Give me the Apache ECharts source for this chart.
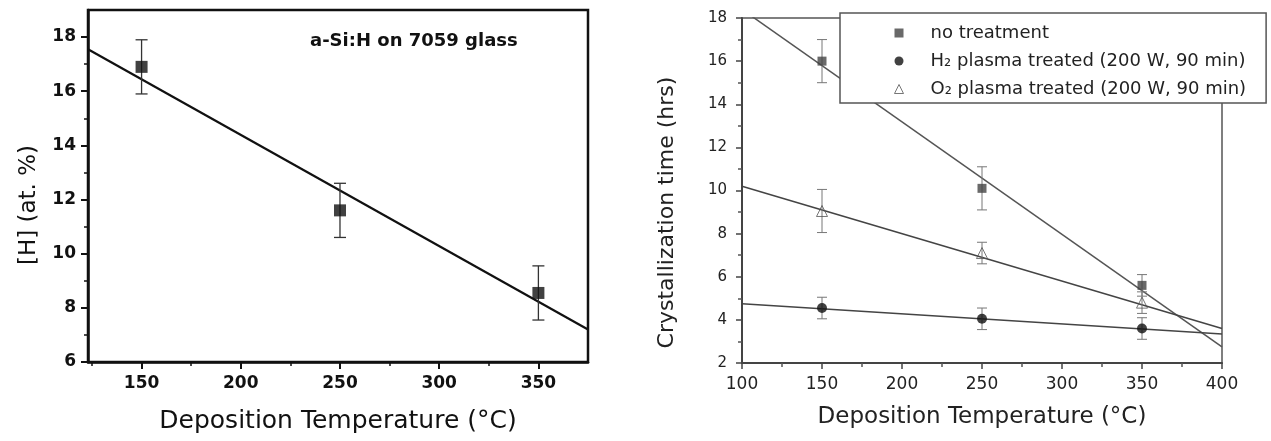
<!DOCTYPE html>
<html>
<head>
<meta charset="utf-8">
<title>Deposition temperature</title>
<script src="https://cdn.jsdelivr.net/npm/echarts@6/dist/echarts.min.js"></script>
<style>
html, body { margin: 0; padding: 0; background: #fff; }
#chart { width: 1271px; height: 441px; }
</style>
</head>
<body>
<div id="chart"></div>
<script>
// left panel : [H] content
var leftTemps = [150, 250, 350];
var leftH = [16.9, 11.6, 8.55];
var leftErr = [1.0, 1.0, 1.0];
var leftFit = [[123, 17.55], [375, 7.2]];
var leftXTicks = [150, 200, 250, 300, 350];
var leftXMinor = [125, 175, 225, 275, 325];
var leftYTicks = [6, 8, 10, 12, 14, 16, 18];
var leftYMinor = [7, 9, 11, 13, 15, 17];

// right panel : crystallization time
var rightTemps = [150, 250, 350];
var noTreat = [16.0, 10.1, 5.6];
var noTreatErr = [1.0, 1.0, 0.5];
var h2Plasma = [4.55, 4.05, 3.6];
var h2Err = [0.5, 0.5, 0.5];
var o2Plasma = [9.05, 7.1, 4.8];
var o2Err = [1.0, 0.5, 0.5];
var noTreatFit = [[100, 18.4], [400, 2.75]];
var h2Fit = [[100, 4.75], [400, 3.35]];
var o2Fit = [[100, 10.2], [400, 3.6]];
var rightXTicks = [100, 150, 200, 250, 300, 350, 400];
var rightXMinor = [125, 175, 225, 275, 325, 375];
var rightYTicks = [2, 4, 6, 8, 10, 12, 14, 16, 18];
var rightYMinor = [3, 5, 7, 9, 11, 13, 15, 17];

var FONT = 'DejaVu Sans';

function pts(xs, ys) {
	return xs.map(function (x, i) { return [x, ys[i]]; });
}

function bars(xs, ys, es) {
	return xs.map(function (x, i) { return [x, ys[i] - es[i], ys[i] + es[i]]; });
}

/**
 * vertical error bar with caps
 */
function errorBars(cap, color, width) {
	return function (params, api) {
		var top = api.coord([api.value(0), api.value(2)]);
		var bot = api.coord([api.value(0), api.value(1)]);
		var st = { stroke: color, lineWidth: width };
		return {
			type: 'group',
			children: [
				{ type: 'line', shape: { x1: top[0], y1: top[1], x2: bot[0], y2: bot[1] }, style: st },
				{ type: 'line', shape: { x1: top[0] - cap, y1: top[1], x2: top[0] + cap, y2: top[1] }, style: st },
				{ type: 'line', shape: { x1: bot[0] - cap, y1: bot[1], x2: bot[0] + cap, y2: bot[1] }, style: st }
			]
		};
	};
}

function minorAxis(grid, pos, min, max, ticks, color) {
	return {
		gridIndex: grid, type: 'value', position: pos, min: min, max: max,
		axisLine: { show: false, onZero: false },
		axisTick: { show: true, customValues: ticks, length: 4, lineStyle: { color: color, width: 1.5 } },
		axisLabel: { show: false },
		splitLine: { show: false }
	};
}

var myChart = echarts.init(document.getElementById('chart'), null, { renderer: 'canvas' });

var option = {
	animation: false,
	backgroundColor: '#fff',
	grid: [
		{ left: 88, top: 10, width: 500, height: 352, show: true, borderColor: '#111', borderWidth: 2.5 },
		{ left: 742, top: 18, width: 480, height: 345, show: true, borderColor: '#555', borderWidth: 1.5 }
	],
	xAxis: [
		{
			gridIndex: 0, type: 'value', position: 'bottom', min: 123, max: 375,
			axisLine: { show: true, onZero: false, lineStyle: { color: '#111', width: 2.5 } },
			axisTick: { show: true, customValues: leftXTicks, length: 7, lineStyle: { color: '#111', width: 2 } },
			axisLabel: { customValues: leftXTicks, margin: 13, color: '#111', fontSize: 17, fontWeight: 'bold', fontFamily: FONT },
			splitLine: { show: false },
			name: 'Deposition Temperature (°C)', nameLocation: 'middle', nameGap: 47,
			nameTextStyle: { color: '#111', fontSize: 25, fontFamily: FONT }
		},
		minorAxis(0, 'bottom', 123, 375, leftXMinor, '#111'),
		{
			gridIndex: 1, type: 'value', position: 'bottom', min: 100, max: 400,
			axisLine: { show: true, onZero: false, lineStyle: { color: '#444', width: 2 } },
			axisTick: { show: true, customValues: rightXTicks, length: 6, lineStyle: { color: '#444', width: 1.5 } },
			axisLabel: { customValues: rightXTicks, margin: 13, color: '#222', fontSize: 17, fontFamily: FONT },
			splitLine: { show: false },
			name: 'Deposition Temperature (°C)', nameLocation: 'middle', nameGap: 43,
			nameTextStyle: { color: '#222', fontSize: 23, fontFamily: FONT }
		},
		minorAxis(1, 'bottom', 100, 400, rightXMinor, '#555')
	],
	yAxis: [
		{
			gridIndex: 0, type: 'value', position: 'left', min: 6, max: 19,
			axisLine: { show: true, onZero: false, lineStyle: { color: '#111', width: 2.5 } },
			axisTick: { show: true, customValues: leftYTicks, length: 7, lineStyle: { color: '#111', width: 2 } },
			axisLabel: { customValues: leftYTicks, margin: 12, color: '#111', fontSize: 17, fontWeight: 'bold', fontFamily: FONT },
			splitLine: { show: false },
			name: '[H] (at. %)', nameLocation: 'middle', nameGap: 47,
			nameTextStyle: { color: '#111', fontSize: 23, fontFamily: FONT, padding: [0, 38, 0, 0] }
		},
		minorAxis(0, 'left', 6, 19, leftYMinor, '#111'),
		{
			gridIndex: 1, type: 'value', position: 'left', min: 2, max: 18,
			axisLine: { show: true, onZero: false, lineStyle: { color: '#444', width: 2 } },
			axisTick: { show: true, customValues: rightYTicks, length: 6, lineStyle: { color: '#444', width: 1.5 } },
			axisLabel: { customValues: rightYTicks, margin: 15, color: '#222', fontSize: 15, fontFamily: FONT },
			splitLine: { show: false },
			name: 'Crystallization time (hrs)', nameLocation: 'middle', nameGap: 64,
			nameTextStyle: { color: '#222', fontSize: 22, fontFamily: FONT, padding: [0, 44, 0, 0] }
		},
		minorAxis(1, 'left', 2, 18, rightYMinor, '#555')
	],
	legend: {
		left: 840, top: 13, orient: 'vertical', selectedMode: false,
		itemWidth: 9, itemHeight: 9, itemGap: 10,
		padding: [11, 20, 5, 54],
		backgroundColor: '#fff', borderColor: '#555', borderWidth: 1.5,
		textStyle: { color: '#222', fontSize: 18, fontFamily: FONT, lineHeight: 18, padding: [0, 0, 0, 22] },
		data: [
			{ name: 'no treatment', icon: 'rect', itemStyle: { color: '#444' } },
			{ name: 'H₂ plasma treated (200 W, 90 min)', icon: 'circle', itemStyle: { color: '#111' } },
			{ name: 'O₂ plasma treated (200 W, 90 min)', icon: 'triangle',
				itemStyle: { color: 'transparent', borderColor: '#555', borderWidth: 1 } }
		]
	},
	graphic: [
		{ type: 'text', left: 310, top: 32, silent: true,
			style: { text: 'a-Si:H on 7059 glass', fill: '#111', font: 'bold 18px "DejaVu Sans"' } }
	],
	series: [
		// left
		{ type: 'line', name: 'H fit', xAxisIndex: 0, yAxisIndex: 0, data: leftFit, symbol: 'none',
			lineStyle: { color: '#111', width: 2.2 }, silent: true, z: 2 },
		{ type: 'custom', name: 'H err', xAxisIndex: 0, yAxisIndex: 0, data: bars(leftTemps, leftH, leftErr),
			encode: { x: 0, y: [1, 2] }, renderItem: errorBars(6, '#333', 1.3), silent: true, z: 3 },
		{ type: 'scatter', name: '[H]', xAxisIndex: 0, yAxisIndex: 0, data: pts(leftTemps, leftH),
			symbol: 'rect', symbolSize: 12, itemStyle: { color: '#111' }, silent: true, z: 4 },
		// right
		{ type: 'line', name: 'no treatment fit', xAxisIndex: 2, yAxisIndex: 2, data: noTreatFit, symbol: 'none',
			lineStyle: { color: '#555', width: 1.5 }, silent: true, z: 2 },
		{ type: 'line', name: 'H2 fit', xAxisIndex: 2, yAxisIndex: 2, data: h2Fit, symbol: 'none',
			lineStyle: { color: '#444', width: 1.5 }, silent: true, z: 2 },
		{ type: 'line', name: 'O2 fit', xAxisIndex: 2, yAxisIndex: 2, data: o2Fit, symbol: 'none',
			lineStyle: { color: '#444', width: 1.5 }, silent: true, z: 2 },
		{ type: 'custom', name: 'no treatment err', xAxisIndex: 2, yAxisIndex: 2, data: bars(rightTemps, noTreat, noTreatErr),
			encode: { x: 0, y: [1, 2] }, renderItem: errorBars(5, '#777', 1), silent: true, z: 3 },
		{ type: 'custom', name: 'H2 err', xAxisIndex: 2, yAxisIndex: 2, data: bars(rightTemps, h2Plasma, h2Err),
			encode: { x: 0, y: [1, 2] }, renderItem: errorBars(5, '#777', 1), silent: true, z: 3 },
		{ type: 'custom', name: 'O2 err', xAxisIndex: 2, yAxisIndex: 2, data: bars(rightTemps, o2Plasma, o2Err),
			encode: { x: 0, y: [1, 2] }, renderItem: errorBars(5, '#777', 1), silent: true, z: 3 },
		{ type: 'scatter', name: 'no treatment', xAxisIndex: 2, yAxisIndex: 2, data: pts(rightTemps, noTreat),
			symbol: 'rect', symbolSize: 9, itemStyle: { color: '#444' }, silent: true, z: 4 },
		{ type: 'scatter', name: 'H₂ plasma treated (200 W, 90 min)', xAxisIndex: 2, yAxisIndex: 2, data: pts(rightTemps, h2Plasma),
			symbol: 'circle', symbolSize: 10, itemStyle: { color: '#111' }, silent: true, z: 4 },
		{ type: 'scatter', name: 'O₂ plasma treated (200 W, 90 min)', xAxisIndex: 2, yAxisIndex: 2, data: pts(rightTemps, o2Plasma),
			symbol: 'triangle', symbolSize: 11, itemStyle: { color: 'transparent', borderColor: '#555', borderWidth: 1 }, silent: true, z: 4 }
	]
};

myChart.setOption(option);
</script>
</body>
</html>
